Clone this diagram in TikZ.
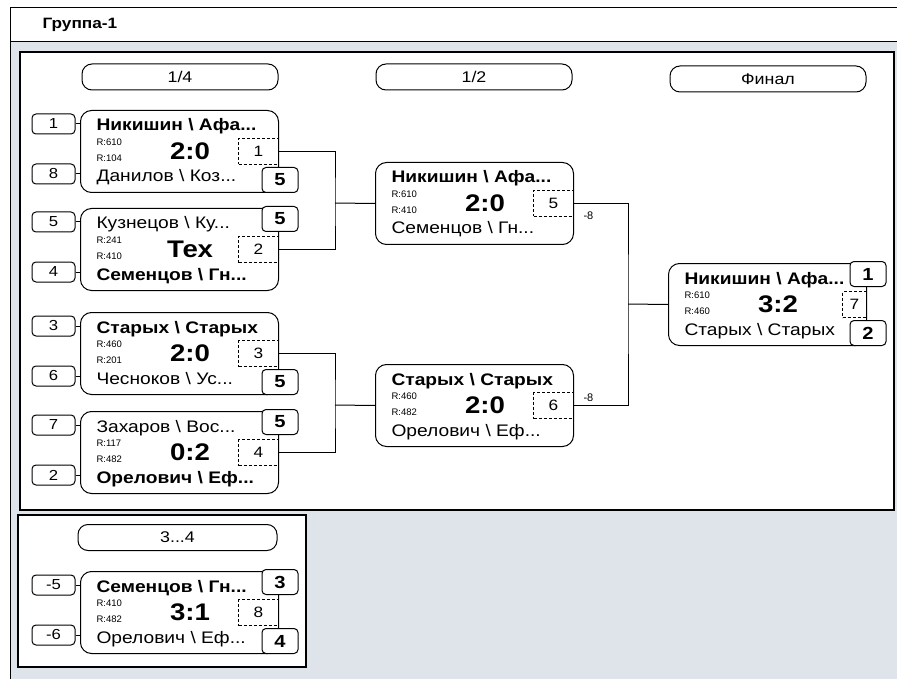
\documentclass[tikz,border=0pt]{standalone}
\usepackage{fontspec}
\setmainfont[FakeStretch=1.15]{Liberation Sans}
\newfontfamily\plainfont{Liberation Sans}
\usepackage{xcolor}
\usepackage{tikz}
\usetikzlibrary{shapes.geometric, arrows, calc}
\definecolor{panelgray}{HTML}{DEE4EA}
\newcommand{\bs}{\textbackslash}
\newcommand{\dts}{...}
\tikzstyle{matchbox} = [draw, fill=white, rounded corners=11pt, minimum width=198pt, minimum height=82pt, anchor=north west, inner sep=0pt]
\tikzstyle{seedbox} = [draw, rounded corners=4pt, minimum width=43pt, minimum height=20pt, inner sep=0pt, font=\fontsize{14.5}{14.5}\selectfont]
\tikzstyle{winbox} = [draw, fill=white, rounded corners=4pt, minimum width=36pt, minimum height=25pt, inner sep=0pt, font=\fontsize{17.5}{17.5}\selectfont\bfseries]
\tikzstyle{gamebox} = [draw, dash pattern=on 3pt off 2pt, minimum height=26pt, anchor=east, inner sep=0pt, font=\fontsize{15}{15}\selectfont]
\tikzstyle{pill} = [draw, fill=white, rounded corners=10pt, minimum width=196pt, minimum height=26pt, inner sep=0pt, font=\fontsize{15.5}{15.5}\selectfont]
\tikzstyle{bname} = [anchor=base west, inner sep=0pt, font=\fontsize{16.7}{16.7}\selectfont\bfseries]
\tikzstyle{rname} = [anchor=base west, inner sep=0pt, font=\fontsize{16.7}{16.7}\selectfont]
\tikzstyle{rating} = [anchor=west, inner sep=0pt, font=\plainfont\fontsize{9.5}{9.5}\selectfont]
\tikzstyle{score} = [inner sep=0pt, font=\fontsize{24}{24}\selectfont\bfseries]

\begin{document}
\begin{tikzpicture}[x=1pt,y=-1pt,line width=1pt]
	\useasboundingbox (0,0) rectangle (897,679);
	% Frames:
	\fill[white] (0,0) rectangle (897,679);
	\draw[fill=panelgray] (10,8) rectangle (905,682);
	\draw[fill=white] (10,8) rectangle (905,42);
	\draw[line width=1.3pt, fill=white] (20,52) rectangle (894,510);
	\draw[line width=1.3pt, fill=white] (18,515) rectangle (306,667);
	\node[anchor=west, inner sep=0pt, font=\fontsize{15}{15}\selectfont\bfseries] (title) at (42,25) {Группа-1};

	% Round headers:
	\node[pill] (p1) at (180,77) {1/4};
	\node[pill] (p2) at (474,77) {1/2};
	\node[pill] (p3) at (768,79) {Финал};
	\node[pill, minimum width=199pt] (p4) at (177.5,537.5) {3...4};

	% Matches:
	% name / x / y / style top / top / R top / R bottom / score / game / width / style bottom / bottom
	\foreach \m/\x/\y/\sa/\na/\ra/\rb/\sc/\g/\gw/\sb/\nb in {
		m1/80/110/bname/Никишин \bs{} Афа\dts/R:610/R:104/2:0/1/40/rname/Данилов \bs{} Коз\dts,
		m2/80/208/rname/Кузнецов \bs{} Ку\dts/R:241/R:410/Тех/2/40/bname/Семенцов \bs{} Гн\dts,
		m3/80/312/bname/Старых \bs{} Старых/R:460/R:201/2:0/3/40/rname/Чесноков \bs{} Ус\dts,
		m4/80/411/rname/Захаров \bs{} Вос\dts/R:117/R:482/0:2/4/40/bname/Орелович \bs{} Еф\dts,
		m5/375/162/bname/Никишин \bs{} Афа\dts/R:610/R:410/2:0/5/40/rname/Семенцов \bs{} Гн\dts,
		m6/375/364/bname/Старых \bs{} Старых/R:460/R:482/2:0/6/40/rname/Орелович \bs{} Еф\dts,
		m7/668/263/bname/Никишин \bs{} Афа\dts/R:610/R:460/3:2/7/24/rname/Старых \bs{} Старых,
		m8/80/571/bname/Семенцов \bs{} Гн\dts/R:410/R:482/3:1/8/40/rname/Орелович \bs{} Еф\dts}{%
		\node[matchbox] (\m) at (\x,\y) {};
		\node[\sa] (\m-a) at (\x+16,\y+21) {\na};
		\node[rating] (\m-r1) at (\x+16,\y+32) {\ra};
		\node[rating] (\m-r2) at (\x+16,\y+48) {\rb};
		\node[score] (\m-s) at (\x+110,\y+41) {\sc};
		\node[gamebox, minimum width=\gw pt] (\m-g) at (\m.east) {\g};
		\node[\sb] (\m-b) at (\x+16,\y+72) {\nb};
	}

	% Seeds with their ticks:
	\foreach \m/\a/\b in {m1/1/8, m2/5/4, m3/3/6, m4/7/2, m8/-5/-6}{%
		\node[seedbox] (\m-sa) at ($(\m.north west)+(-26.5,14)$) {\a};
		\node[seedbox] (\m-sb) at ($(\m.north west)+(-26.5,64)$) {\b};
		\draw (\m-sa.east) -- (\m-sa.east -| \m.west);
		\draw (\m-sb.east) -- (\m-sb.east -| \m.west);
	}

	% Winner places:
	\node[winbox] (w1) at ($(m1.south east)+(1,-13)$) {5};
	\node[winbox] (w2) at ($(m2.north east)+(1,11)$)  {5};
	\node[winbox] (w3) at ($(m3.south east)+(1,-13)$) {5};
	\node[winbox] (w4) at ($(m4.north east)+(1,11)$)  {5};
	\node[winbox] (w7a) at ($(m7.north east)+(1,11)$)  {1};
	\node[winbox] (w7b) at ($(m7.south east)+(1,-13)$) {2};
	\node[winbox] (w8a) at ($(m8.north east)+(1,11)$)  {3};
	\node[winbox] (w8b) at ($(m8.south east)+(1,-13)$) {4};

	% Brackets:
	\coordinate (j1) at (335,203);
	\coordinate (j2) at (335,405);
	\coordinate (j3) at (628,304);
	\draw (m1.east) -| (j1) |- (m2.east);
	\draw (j1) -- (m5.west);
	\draw (m3.east) -| (j2) |- (m4.east);
	\draw (j2) -- (m6.west);
	\draw (m5.east) -| (j3) |- (m6.east);
	\draw (j3) -- (m7.west);
	\node[rating, font=\plainfont\fontsize{11}{11}\selectfont] (l5) at ($(m5.east)+(9,12)$) {-8};
	\node[rating, font=\plainfont\fontsize{11}{11}\selectfont] (l6) at ($(m6.east)+(9,-8)$) {-8};
\end{tikzpicture}
\end{document}
